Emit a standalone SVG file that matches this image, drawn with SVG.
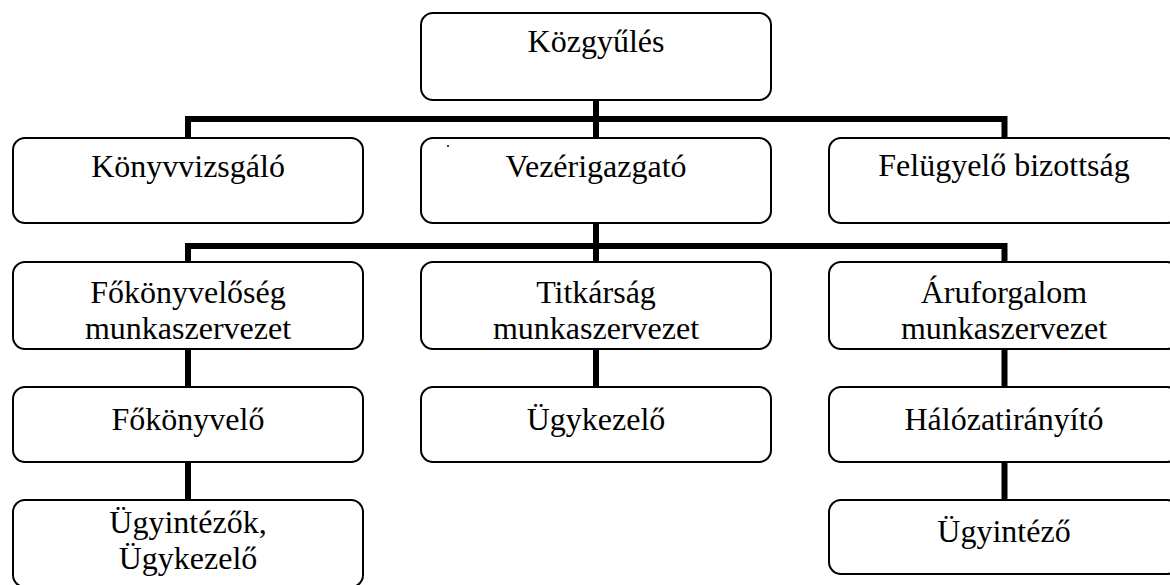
<svg xmlns="http://www.w3.org/2000/svg" width="1170" height="585" viewBox="0 0 1170 585">
<style>
.box{fill:#fff;stroke:#000;stroke-width:2}
.t{font-family:"Liberation Serif","Times New Roman",serif;font-size:32px;fill:#000;text-anchor:middle}
.c{fill:none;stroke:#000;stroke-width:6;stroke-linejoin:miter;stroke-linecap:butt}
</style>
<rect width="1170" height="585" fill="#fff"/>
<g id="connectors">
<path class="c" d="M596,100 V138"/>
<path class="c" d="M188,138 V119 H1004.5 V138"/>
<path class="c" d="M596,223 V262"/>
<path class="c" d="M188,262 V246 H1004.5 V262"/>
<path class="c" d="M188,349 V387"/>
<path class="c" d="M596,349 V387"/>
<path class="c" d="M1004.5,349 V387"/>
<path class="c" d="M188,462 V500"/>
<path class="c" d="M1004.5,462 V500"/>
</g>
<g id="kozgyules"><rect class="box" x="421" y="13" width="350" height="87" rx="12"/><text class="t" x="596" y="52">Közgyűlés</text></g>
<g id="konyvvizsgalo"><rect class="box" x="13" y="138" width="350" height="85" rx="12"/><text class="t" x="188" y="177">Könyvvizsgáló</text></g>
<g id="vezerigazgato"><rect class="box" x="421" y="138" width="350" height="85" rx="12"/><circle cx="448" cy="146" r="1" fill="#000"/><text class="t" x="596" y="177">Vezérigazgató</text></g>
<g id="felugyelo"><rect class="box" x="829" y="138" width="350" height="85" rx="12"/><text class="t" x="1004" y="176">Felügyelő bizottság</text></g>
<g id="fokonyveloseg"><rect class="box" x="13" y="262" width="350" height="87" rx="12"/><text class="t" x="188" y="303">Főkönyvelőség</text><text class="t" x="188" y="339">munkaszervezet</text></g>
<g id="titkarsag"><rect class="box" x="421" y="262" width="350" height="87" rx="12"/><text class="t" x="596" y="303">Titkárság</text><text class="t" x="596" y="339">munkaszervezet</text></g>
<g id="aruforgalom"><rect class="box" x="829" y="262" width="350" height="87" rx="12"/><text class="t" x="1004" y="303">Áruforgalom</text><text class="t" x="1004" y="339">munkaszervezet</text></g>
<g id="fokonyvelo"><rect class="box" x="13" y="387" width="350" height="75" rx="12"/><text class="t" x="188" y="430">Főkönyvelő</text></g>
<g id="ugykezelo"><rect class="box" x="421" y="387" width="350" height="75" rx="12"/><text class="t" x="596" y="430">Ügykezelő</text></g>
<g id="halozatiranyito"><rect class="box" x="829" y="387" width="350" height="75" rx="12"/><text class="t" x="1004" y="430">Hálózatirányító</text></g>
<g id="ugyintezok"><rect class="box" x="13" y="500" width="350" height="87" rx="12"/><text class="t" x="188" y="533">Ügyintézők,</text><text class="t" x="188" y="569">Ügykezelő</text></g>
<g id="ugyintezo"><rect class="box" x="829" y="500" width="350" height="74" rx="12"/><text class="t" x="1004" y="542">Ügyintéző</text></g>
</svg>
